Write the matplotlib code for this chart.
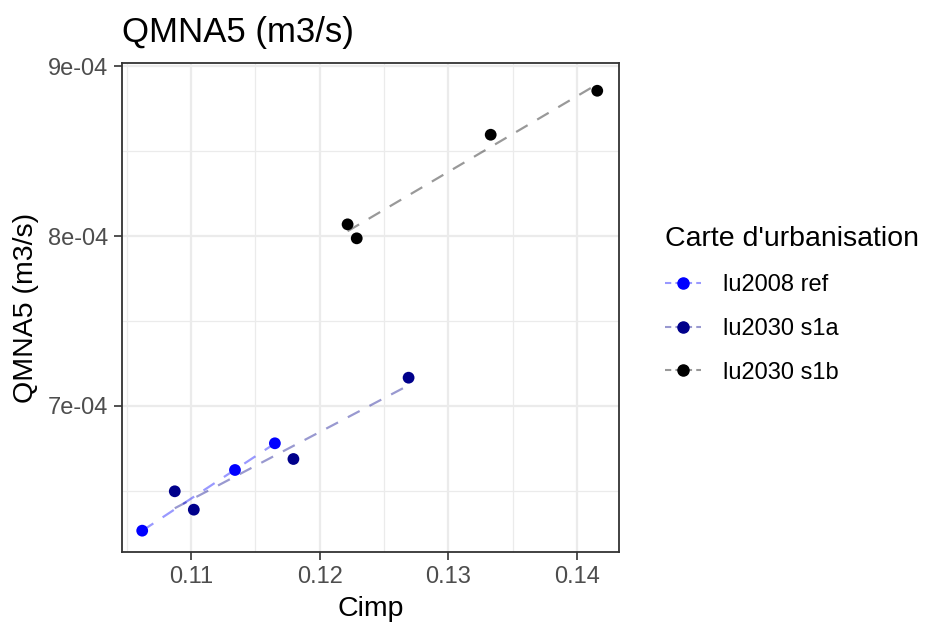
import matplotlib
matplotlib.use("Agg")
import matplotlib.pyplot as plt
import numpy as np
from matplotlib.lines import Line2D
from matplotlib.ticker import FixedLocator

plt.rcParams["font.family"] = ["Liberation Sans", "DejaVu Sans"]

# données
groups = ["lu2008 ref", "lu2030 s1a", "lu2030 s1b"]
colors = ["#0000FF", "#00008B", "#000000"]

cimp_ref = [0.10620, 0.11341, 0.11651]
qmna_ref = [6.2665e-4, 6.6235e-4, 6.7806e-4]

cimp_s1a = [0.10873, 0.11021, 0.11795, 0.12690]
qmna_s1a = [6.4982e-4, 6.3900e-4, 6.6882e-4, 7.1665e-4]

cimp_s1b = [0.12216, 0.12287, 0.13328, 0.14156]
qmna_s1b = [8.0688e-4, 7.9865e-4, 8.5959e-4, 8.8547e-4]

x_ticks = [0.11, 0.12, 0.13, 0.14]
x_tick_labels = ["0.11", "0.12", "0.13", "0.14"]
y_ticks = [7e-4, 8e-4, 9e-4]
y_tick_labels = ["7e-04", "8e-04", "9e-04"]

data = [(cimp_ref, qmna_ref), (cimp_s1a, qmna_s1a), (cimp_s1b, qmna_s1b)]

fig = plt.figure(figsize=(9.32, 6.26), dpi=100)
ax = fig.add_axes([122 / 932, 74 / 626, 497 / 932, 489 / 626])

# droites de régression (lm) en pointillés, semi-transparentes
for (x, y), c in zip(data, colors):
    x = np.array(x)
    y = np.array(y)
    a, b = np.polyfit(x, y, 1)
    xs = np.array([x.min(), x.max()])
    line, = ax.plot(xs, a * xs + b, color=c, alpha=0.4, lw=1.6, zorder=2)
    line.set_dashes((6, 5))

# points
for (x, y), c in zip(data, colors):
    ax.scatter(x, y, s=72, color=c, edgecolors="none", zorder=3)

ax.set_xlim(0.10463, 0.14325)
ax.set_ylim(6.141e-4, 9.018e-4)

ax.set_xticks(x_ticks)
ax.set_xticklabels(x_tick_labels)
ax.set_yticks(y_ticks)
ax.set_yticklabels(y_tick_labels)
ax.xaxis.set_minor_locator(FixedLocator([0.105, 0.115, 0.125, 0.135]))
ax.yaxis.set_minor_locator(FixedLocator([6.5e-4, 7.5e-4, 8.5e-4]))

ax.grid(which="major", color="#EBEBEB", lw=1.6, zorder=0)
ax.grid(which="minor", color="#EBEBEB", lw=0.9, zorder=0)
ax.set_axisbelow(True)
ax.tick_params(which="minor", length=0)
ax.tick_params(which="major", length=6, width=1.2, color="#333333",
               labelsize=17, labelcolor="#4D4D4D", pad=4)
for sp in ax.spines.values():
    sp.set_color("#333333")
    sp.set_linewidth(1.3)

ax.set_xlabel("Cimp", fontsize=20.5, labelpad=6)
ax.set_ylabel("QMNA5 (m3/s)", fontsize=20.5, labelpad=6)
ax.set_title("QMNA5 (m3/s)", fontsize=25, loc="left", pad=15)

# légende
handles = []
for c in colors:
    h = Line2D([0], [0], lw=1.5, linestyle=(0, (3, 2)),
               marker="o", markersize=8, markerfacecolor=c, markeredgecolor=c)
    h.set_color((*matplotlib.colors.to_rgb(c), 0.4))
    handles.append(h)
leg = fig.legend(handles, groups, title="Carte d'urbanisation",
                 loc="upper left", bbox_to_anchor=(656 / 932, 1 - 217 / 626),
                 frameon=False, fontsize=17, title_fontsize=20.5,
                 handlelength=1.5, labelspacing=0.92, handletextpad=0.93,
                 borderaxespad=0)
leg._legend_box.align = "left"

fig.savefig("out.png", dpi=100)
